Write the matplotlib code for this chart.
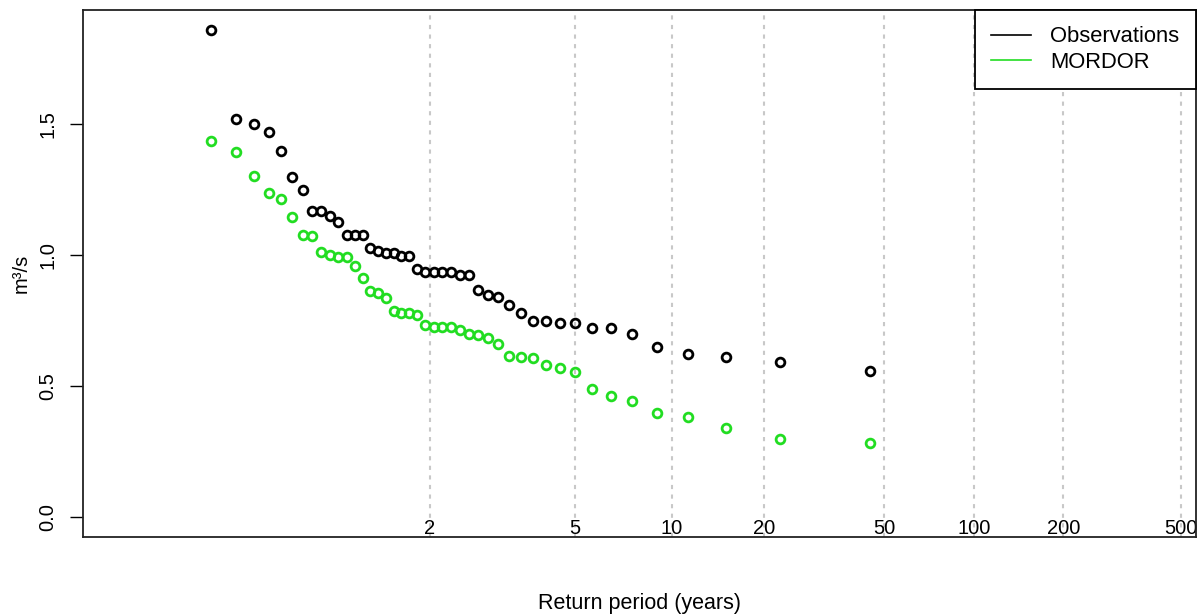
import numpy as np
import matplotlib
matplotlib.use("Agg")
import matplotlib.pyplot as plt
from matplotlib.lines import Line2D

plt.rcParams['font.family'] = ['Liberation Sans', 'DejaVu Sans']

# Ranked values (rank 1 = smallest, largest return period)
obs_values = [0.560, 0.591, 0.610, 0.623, 0.650, 0.699, 0.722, 0.722, 0.741, 0.741,
              0.750, 0.750, 0.780, 0.810, 0.839, 0.850, 0.869, 0.926, 0.926, 0.937,
              0.937, 0.937, 0.937, 0.947, 0.998, 0.998, 1.009, 1.009, 1.015, 1.028,
              1.076, 1.076, 1.076, 1.127, 1.149, 1.169, 1.170, 1.248, 1.299, 1.400,
              1.470, 1.500, 1.521, 1.862]
mordor_values = [0.285, 0.298, 0.340, 0.381, 0.397, 0.442, 0.462, 0.489, 0.553, 0.569,
                 0.582, 0.608, 0.610, 0.616, 0.661, 0.684, 0.697, 0.699, 0.716, 0.725,
                 0.728, 0.728, 0.735, 0.773, 0.780, 0.780, 0.788, 0.837, 0.855, 0.862,
                 0.913, 0.958, 0.995, 0.995, 1.000, 1.011, 1.072, 1.078, 1.148, 1.216,
                 1.238, 1.304, 1.393, 1.438]
grid_periods = [2, 5, 10, 20, 50, 100, 200, 500]
grid_labels = ["2", "5", "10", "20", "50", "100", "200", "500"]
series_names = ["Observations", "MORDOR"]
series_colors = ["black", "#22dd22"]


def gumbel(T):
    T = np.asarray(T, dtype=float)
    return -np.log(-np.log(1.0 - 1.0 / T))


n = len(obs_values)
rank = np.arange(1, n + 1)
return_period = (n + 1) / rank  # Weibull plotting position

W, H = 1198, 616
fig = plt.figure(figsize=(W / 100, H / 100), dpi=100)
left, right, top, bottom = 83, 1196, 10, 536.7
ax = fig.add_axes([left / W, 1 - bottom / H, (right - left) / W, (bottom - top) / H])

xv = gumbel(return_period)
ms = 6.3
mew = 2.0
ax.plot(xv, obs_values, linestyle='none', marker='o', markersize=ms,
        markerfacecolor='none', markeredgecolor=series_colors[0], markeredgewidth=mew, zorder=3)
ax.plot(xv, mordor_values, linestyle='none', marker='o', markersize=ms,
        markerfacecolor='none', markeredgecolor=series_colors[1], markeredgewidth=mew, zorder=3)

# x limits in reduced variate
ax.set_xlim(-2.329, 6.328)
ymax = max(obs_values)
ax.set_ylim(-0.04 * ymax, 1.04 * ymax)

# grid + x labels inside plot
gx = gumbel(grid_periods)
ax.set_xticks(gx)
ax.set_xticklabels(grid_labels, fontsize=14.5)
ax.tick_params(axis='x', length=0, pad=-2.0)
for lbl in ax.get_xticklabels():
    lbl.set_verticalalignment('baseline')
ax.grid(axis='x', color='#c8c8c8', linestyle=(0, (2.0, 2.6)), linewidth=1.5, zorder=1)

# y axis
yt = [0.0, 0.5, 1.0, 1.5]
ax.set_yticks(yt)
ax.set_yticklabels(["0.0", "0.5", "1.0", "1.5"], rotation=90, va='center', fontsize=14.5)
ax.tick_params(axis='y', direction='out', length=9.4, width=1.0, pad=9, colors='black')

for s in ax.spines.values():
    s.set_linewidth(1.3)
    s.set_color('#222222')

fig.text(21 / W, 1 - 273 / H, "m³/s", rotation=90, ha='center', va='center', fontsize=14.5)
fig.text(639.5 / W, 1 - 604 / H, "Return period (years)", ha='center', va='center', fontsize=15.5)

handles = [Line2D([0], [0], color=c, lw=1.2) for c in series_colors]
leg = ax.legend(handles, series_names, loc='upper right', borderaxespad=0,
                fontsize=15.8, frameon=True, fancybox=False, framealpha=1,
                edgecolor='black', handlelength=1.8, handletextpad=0.9,
                labelspacing=0.2, borderpad=0.75)
leg.get_frame().set_linewidth(1.3)
leg.set_zorder(5)

fig.savefig("out.png", dpi=100)
